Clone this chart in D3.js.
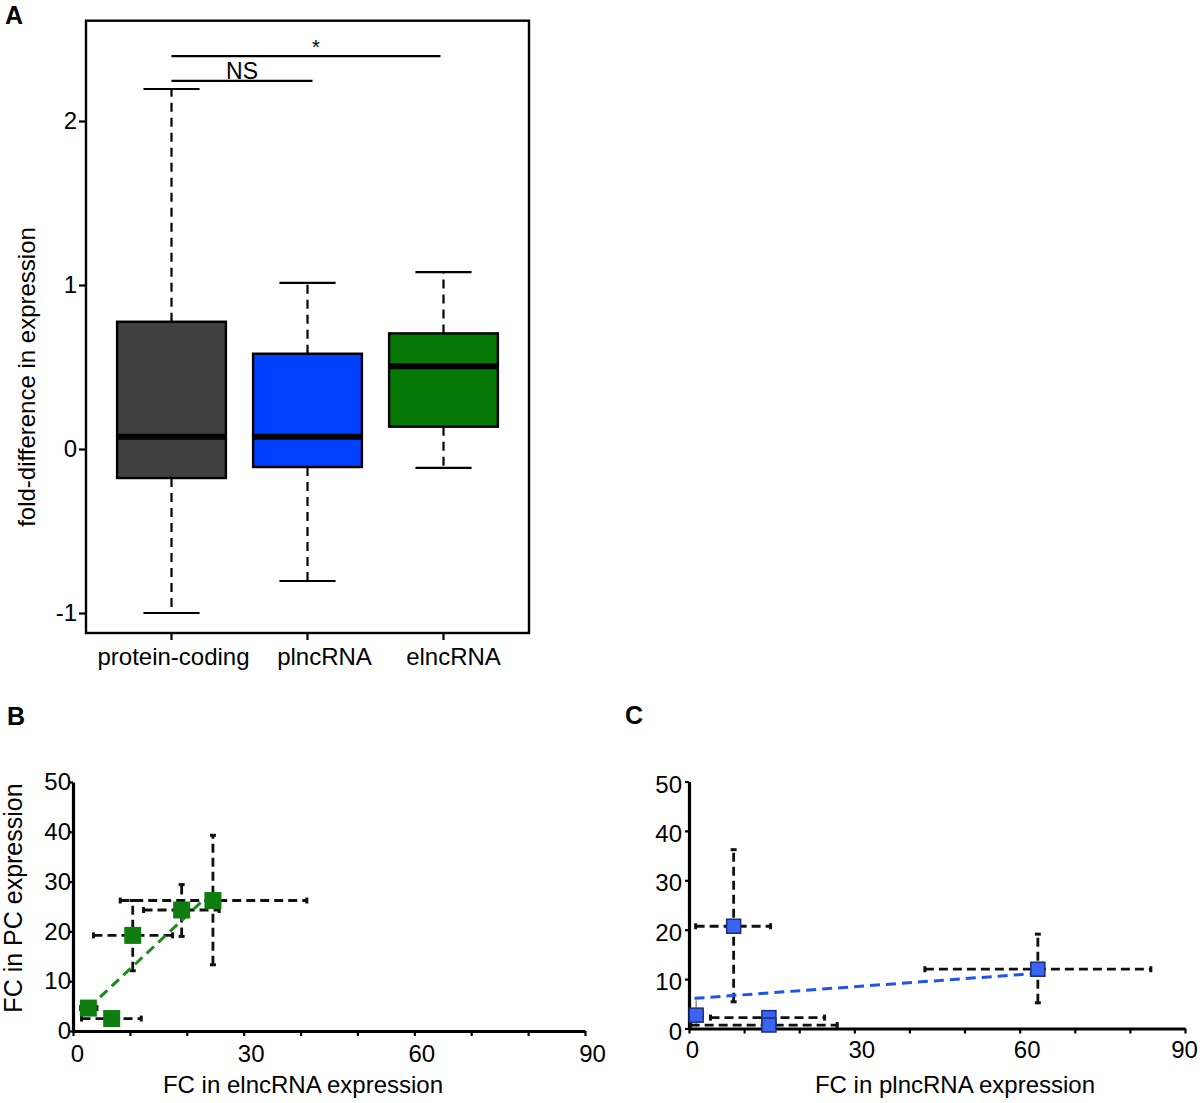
<!DOCTYPE html>
<html><head><meta charset="utf-8">
<script src="https://cdn.jsdelivr.net/npm/d3@7"></script>
<style>
body{margin:0;background:#fff}
svg{display:block}
text{font-family:"Liberation Sans",Arial,Helvetica,sans-serif;fill:#000}
</style>
</head><body>
<svg id="chart" width="1200" height="1103"></svg>
<script>
// ---------- Panel A data ----------
const boxCategories = ["protein-coding", "plncRNA", "elncRNA"];
const boxWhiskerLow  = [-1.0, -0.805, -0.115];
const boxQ1          = [-0.177, -0.11, 0.136];
const boxMedian      = [0.075, 0.075, 0.505];
const boxQ3          = [0.776, 0.581, 0.705];
const boxWhiskerHigh = [2.195, 1.013, 1.079];
const boxYTicks = [-1, 0, 1, 2];
const sigLabels = ["NS", "*"];
const sigFrom   = ["protein-coding", "protein-coding"];
const sigTo     = ["plncRNA", "elncRNA"];
const sigLevel  = [2.245, 2.395];

// ---------- Panel B data (elncRNA vs PC) ----------
const bX     = [2.7, 6.8, 10.5, 19.1, 24.6];
const bY     = [4.6, 2.5, 19.2, 24.3, 26.2];
const bXLow  = [1.35, 1.5, 3.6, 12.4, 8.3];
const bXHigh = [4.2, 12.0, 17.5, 25.7, 41.1];
const bYLow  = [null, null, 12.1, 19.0, 13.3];
const bYHigh = [null, null, 26.2, 29.4, 39.3];
const bFitX  = [2.7, 23.2];
const bFitY  = [4.6, 26.6];

// ---------- Panel C data (plncRNA vs PC) ----------
const cX     = [1.3, 8.1, 14.5, 14.5, 63.3];
const cY     = [2.7, 20.7, 2.2, 0.7, 12.0];
const cXLow  = [0.3, 1.2, 3.9, 0.3, 42.8];
const cXHigh = [2.4, 14.8, 24.6, 26.9, 83.8];
const cYLow  = [0.2, 5.4, 1.0, 0.2, 5.2];
const cYHigh = [5.7, 36.2, 3.7, 1.2, 19.1];
const cFitX  = [1.0, 62.4];
const cFitY  = [6.1, 11.1];

const xTicksScatter = [0, 10, 20, 30, 40, 50, 60, 70, 80, 90];
const xTickLabelsScatter = [0, 30, 60, 90];
const yTicksScatter = [0, 10, 20, 30, 40, 50];

// ---------- styles ----------
const boxColors = ["#404040", "#0040ff", "#067806"];
const FONT = 24;

const svg = d3.select("#chart");

// panel letters
svg.append("text").attr("x", 5).attr("y", 24).attr("font-size", 25).attr("font-weight", "bold").text("A");
svg.append("text").attr("x", 7).attr("y", 725).attr("font-size", 25).attr("font-weight", "bold").text("B");
svg.append("text").attr("x", 625).attr("y", 724).attr("font-size", 25).attr("font-weight", "bold").text("C");

// ================= Panel A =================
const aLeft = 86, aRight = 529, aTop = 20.7, aBottom = 633;
const yA = d3.scaleLinear().domain([-1, 2]).range([613, 121]);
const xA = d3.scaleBand().domain(boxCategories).range([aLeft, aRight])
  .paddingInner(0.2).paddingOuter(0.2287);
const bw = xA.bandwidth();
const gA = svg.append("g");

boxCategories.forEach((cat, i) => {
  const cx = xA(cat) + bw / 2;
  const capHalf = bw * 0.258;
  gA.append("line").attr("x1", cx).attr("x2", cx).attr("y1", yA(boxQ3[i])).attr("y2", yA(boxWhiskerHigh[i]))
    .attr("stroke", "#000").attr("stroke-width", 2.2).attr("stroke-dasharray", "9,6");
  gA.append("line").attr("x1", cx).attr("x2", cx).attr("y1", yA(boxQ1[i])).attr("y2", yA(boxWhiskerLow[i]))
    .attr("stroke", "#000").attr("stroke-width", 2.2).attr("stroke-dasharray", "9,6");
  [boxWhiskerHigh[i], boxWhiskerLow[i]].forEach(v => {
    gA.append("line").attr("x1", cx - capHalf).attr("x2", cx + capHalf).attr("y1", yA(v)).attr("y2", yA(v))
      .attr("stroke", "#000").attr("stroke-width", 2.2);
  });
  gA.append("rect").attr("x", xA(cat)).attr("y", yA(boxQ3[i]))
    .attr("width", bw).attr("height", yA(boxQ1[i]) - yA(boxQ3[i]))
    .attr("fill", boxColors[i]).attr("stroke", "#000").attr("stroke-width", 2.4);
  gA.append("line").attr("x1", xA(cat) + 1).attr("x2", xA(cat) + bw - 1)
    .attr("y1", yA(boxMedian[i])).attr("y2", yA(boxMedian[i]))
    .attr("stroke", "#000").attr("stroke-width", 6);
});

gA.append("rect").attr("x", aLeft).attr("y", aTop).attr("width", aRight - aLeft).attr("height", aBottom - aTop)
  .attr("fill", "none").attr("stroke", "#000").attr("stroke-width", 2.4);

const axA = gA.append("g").attr("transform", `translate(${aLeft},0)`)
  .call(d3.axisLeft(yA).tickValues(boxYTicks).tickSize(7).tickPadding(2).tickFormat(d => String(d)));
axA.select(".domain").remove();
axA.selectAll("line").attr("stroke", "#000").attr("stroke-width", 2.2);
axA.selectAll("text").attr("font-size", FONT).attr("fill", "#000").attr("font-family", null);

const labelDxA = [2, 17, 10];
const axAx = gA.append("g").attr("transform", `translate(0,${aBottom})`)
  .call(d3.axisBottom(xA).tickSize(7).tickPadding(8));
axAx.select(".domain").remove();
axAx.selectAll("line").attr("stroke", "#000").attr("stroke-width", 2.2);
axAx.selectAll("text").attr("font-size", FONT).attr("fill", "#000").attr("font-family", null)
  .attr("dx", (d, i) => labelDxA[i]);

gA.append("text").attr("transform", "translate(35,377) rotate(-90)").attr("text-anchor", "middle")
  .attr("font-size", FONT).text("fold-difference in expression");

const sigTextDx = [0, 10];
sigLabels.forEach((lab, i) => {
  const x1 = xA(sigFrom[i]) + bw / 2, x2 = xA(sigTo[i]) + bw / 2 + (i === 0 ? 5 : -3);
  const y = yA(sigLevel[i]);
  gA.append("line").attr("x1", x1).attr("x2", x2).attr("y1", y).attr("y2", y)
    .attr("stroke", "#000").attr("stroke-width", 2.2);
  gA.append("text").attr("x", (x1 + x2) / 2 + sigTextDx[i]).attr("y", y - 2)
    .attr("text-anchor", "middle").attr("font-size", i === 0 ? 23 : 20).text(lab);
});

// ================= Scatter helper =================
function scatterPanel(opts) {
  const { x, y, X, Y, XL, XH, YL, YH, FX, FY, fill, stroke, size, fitColor, xTitle, xTitleX, yTitle, yTitlePos, yLabelDy, xLabelPad, yLabelPad, xLabelDx } = opts;
  const g = svg.append("g");
  const y0 = y(0), x0 = x(0);

  const ax = g.append("g").attr("transform", `translate(0,${y0})`)
    .call(d3.axisBottom(x).tickValues(xTicksScatter).tickSize(5).tickSizeOuter(0).tickPadding(xLabelPad)
      .tickFormat(d => xTickLabelsScatter.includes(d) ? String(d) : ""));
  ax.select(".domain").attr("stroke", "#000").attr("stroke-width", 3.2);
  ax.selectAll(".tick line").attr("stroke", "#000").attr("stroke-width", 2.2);
  ax.selectAll("text").attr("font-size", FONT).attr("fill", "#000").attr("font-family", null).attr("dx", xLabelDx);

  const ay = g.append("g").attr("transform", `translate(${x0},0)`)
    .call(d3.axisLeft(y).tickValues(yTicksScatter).tickSize(4).tickSizeOuter(0).tickPadding(yLabelPad)
      .tickFormat(d => String(d)));
  ay.select(".domain").attr("stroke", "#000").attr("stroke-width", 3.2);
  ay.selectAll(".tick line").attr("stroke", "#000").attr("stroke-width", 2.2);
  ay.selectAll("text").attr("font-size", FONT).attr("fill", "#000").attr("font-family", null)
    .attr("transform", `translate(0,${yLabelDy})`);

  const eb = g.append("g");
  const dash = "9,5", capL = 3;
  X.forEach((xv, i) => {
    const px = x(xv), py = y(Y[i]);
    if (XL[i] != null) {
      eb.append("line").attr("x1", x(XL[i])).attr("x2", x(XH[i])).attr("y1", py).attr("y2", py)
        .attr("stroke", "#111").attr("stroke-width", 2.8).attr("stroke-dasharray", dash);
      [XL[i], XH[i]].forEach(v => eb.append("line").attr("x1", x(v)).attr("x2", x(v))
        .attr("y1", py - capL).attr("y2", py + capL).attr("stroke", "#111").attr("stroke-width", 3));
    }
    if (YL[i] != null) {
      const small = (YH[i] - YL[i]) < 6;
      eb.append("line").attr("x1", px).attr("x2", px).attr("y1", y(YL[i])).attr("y2", y(YH[i]))
        .attr("stroke", small ? "#777" : "#111").attr("stroke-width", small ? 1.2 : 2.8)
        .attr("stroke-dasharray", small ? null : dash);
      if (!small) [YL[i], YH[i]].forEach(v => eb.append("line").attr("x1", px - capL).attr("x2", px + capL)
        .attr("y1", y(v)).attr("y2", y(v)).attr("stroke", "#111").attr("stroke-width", 3));
    }
  });

  g.append("line").attr("x1", x(FX[0])).attr("y1", y(FY[0])).attr("x2", x(FX[1])).attr("y2", y(FY[1]))
    .attr("stroke", fitColor).attr("stroke-width", 3).attr("stroke-dasharray", "10,6");

  g.selectAll("rect.pt").data(X).join("rect").attr("class", "pt")
    .attr("x", (d) => x(d) - size / 2).attr("y", (d, i) => y(Y[i]) - size / 2)
    .attr("width", size).attr("height", size)
    .attr("fill", fill).attr("stroke", stroke).attr("stroke-width", stroke === "none" ? 0 : 1.5);

  g.append("text").attr("x", xTitleX).attr("y", 1093).attr("text-anchor", "middle")
    .attr("font-size", FONT).text(xTitle);
  if (yTitle) {
    g.append("text").attr("transform", `translate(${yTitlePos[0]},${yTitlePos[1]}) rotate(-90)`)
      .attr("text-anchor", "middle").attr("font-size", 25).text(yTitle);
  }
}

// Panel B
const xB = d3.scaleLinear().domain([0, 90]).range([73, 585]);
const yB = d3.scaleLinear().domain([0, 50]).range([1031, 782]);
scatterPanel({
  x: xB, y: yB, X: bX, Y: bY, XL: bXLow, XH: bXHigh, YL: bYLow, YH: bYHigh, FX: bFitX, FY: bFitY,
  fill: "#0f7d0f", stroke: "none", size: 17, fitColor: "#1c8a1c",
  xTitle: "FC in elncRNA expression", xTitleX: 303, yTitle: "FC in PC expression", yTitlePos: [22, 898],
  yLabelDy: 0, xLabelPad: 9, yLabelPad: -2, xLabelDx: d => (d === 0 ? 4 : 7)
});

// Panel C
const xC = d3.scaleLinear().domain([0, 90]).range([689, 1185]);
const yC = d3.scaleLinear().domain([0, 50]).range([1028.5, 781.5]);
scatterPanel({
  x: xC, y: yC, X: cX, Y: cY, XL: cXLow, XH: cXHigh, YL: cYLow, YH: cYHigh, FX: cFitX, FY: cFitY,
  fill: "#3b63f2", stroke: "#1b2d7a", size: 14, fitColor: "#1f55ee",
  xTitle: "FC in plncRNA expression", xTitleX: 955, yTitle: null,
  yLabelDy: 3, xLabelPad: 7, yLabelPad: 3, xLabelDx: d => (d === 90 ? -1 : (d === 0 ? 3 : 7))
});
</script>
</body></html>
